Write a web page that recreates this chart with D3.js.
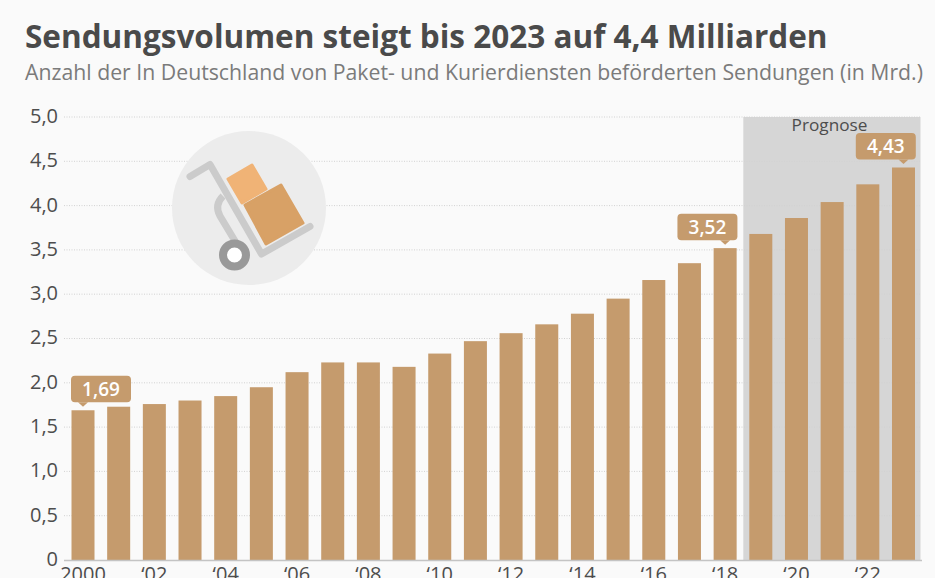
<!DOCTYPE html>
<html>
<head>
<meta charset="utf-8">
<script src="https://cdn.jsdelivr.net/npm/d3@7"></script>
<style>
  html, body { margin: 0; padding: 0; background: #fafafa; overflow: hidden; }
  svg { display: block; font-family: "Open Sans", sans-serif; }
  .tick text { font-size: 20px; fill: #4d4d4d; font-family: "Open Sans", sans-serif; }
</style>
</head>
<body>
<div id="chart"></div>
<script>
var titleText = 'Sendungsvolumen steigt bis 2023 auf 4,4 Milliarden';
var subtitleText = 'Anzahl der In Deutschland von Paket- und Kurierdiensten beförderten Sendungen (in Mrd.)';

var years = [2000, 2001, 2002, 2003, 2004, 2005, 2006, 2007, 2008, 2009, 2010, 2011,
  2012, 2013, 2014, 2015, 2016, 2017, 2018, 2019, 2020, 2021, 2022, 2023];
var volumes = [1.69, 1.73, 1.76, 1.80, 1.85, 1.95, 2.12, 2.23, 2.23, 2.18, 2.33, 2.47,
  2.56, 2.66, 2.78, 2.95, 3.16, 3.35, 3.52, 3.68, 3.86, 4.04, 4.24, 4.43];
var yTicks = [0, 0.5, 1, 1.5, 2, 2.5, 3, 3.5, 4, 4.5, 5];
var xTicks = [2000, 2002, 2004, 2006, 2008, 2010, 2012, 2014, 2016, 2018, 2020, 2022];
var labelledYears = [2000, 2018, 2023];
var forecastYears = [2019, 2023];

var barColor = '#c59b6d';

var svg = d3.select('#chart').append('svg')
  .attr('width', 935)
  .attr('height', 578);

var x = d3.scaleBand().domain(years).range([71.5, 915]).paddingInner(0.355);
var y = d3.scaleLinear().domain([0, 5]).range([560, 117]);

function yLabel(d) {
  return d === 0 ? '0' : d3.format('.1f')(d).replace('.', ',');
}

function xLabel(d) {
  return d === 2000 ? '2000' : '\u2018' + String(d).slice(2);
}

function drawHeader() {
  svg.append('text')
    .attr('x', 25).attr('y', 47.5)
    .attr('font-size', 31.5).attr('font-weight', 700).attr('fill', '#4a4a4a')
    .text(titleText);
  svg.append('text')
    .attr('x', 25).attr('y', 79.5)
    .attr('font-size', 21.25).attr('fill', '#7b7b7b')
    .text(subtitleText);
}

function drawForecast() {
  var left = x(forecastYears[0]) - 6;
  svg.append('rect')
    .attr('x', left).attr('y', y(5))
    .attr('width', 920.5 - left).attr('height', y(0) - y(5))
    .attr('fill', '#d6d6d6');
  svg.append('text')
    .attr('x', 829.5).attr('y', 131)
    .attr('text-anchor', 'middle')
    .attr('font-size', 17.2).attr('fill', '#4d4d4d')
    .text('Prognose');
}

function drawAxes() {
  var yAxis = d3.axisLeft(y).tickValues(yTicks).tickFormat(yLabel).tickSize(0).tickPadding(0);
  var gy = svg.append('g').attr('transform', 'translate(58,-1)').call(yAxis);
  gy.select('.domain').remove();
  gy.selectAll('.tick text').attr('x', 0);

  svg.append('g').selectAll('line')
    .data(yTicks.filter(function (d) { return d > 0; }))
    .enter().append('line')
    .attr('x1', 64).attr('x2', 921)
    .attr('y1', function (d) { return y(d); })
    .attr('y2', function (d) { return y(d); })
    .attr('stroke', '#d2d2d2')
    .attr('stroke-dasharray', '1 1.5');
}

function drawBars() {
  svg.append('g').selectAll('rect')
    .data(years)
    .enter().append('rect')
    .attr('x', function (d) { return x(d); })
    .attr('y', function (d, i) { return y(volumes[i]); })
    .attr('width', x.bandwidth())
    .attr('height', function (d, i) { return y(0) - y(volumes[i]); })
    .attr('fill', barColor);

  svg.append('line')
    .attr('x1', 64).attr('x2', 922)
    .attr('y1', 560.5).attr('y2', 560.5)
    .attr('stroke', '#c4c4c4').attr('stroke-width', 1.5);

  var xAxis = d3.axisBottom(x).tickValues(xTicks).tickFormat(xLabel).tickSize(0).tickPadding(0);
  var gx = svg.append('g').attr('transform', 'translate(0,560)').call(xAxis);
  gx.select('.domain').remove();
  gx.selectAll('.tick text').attr('y', 7);
}

// callouts sit above the bar, 60 wide, the tip always points at the bar centre
function drawCallouts() {
  var w = 60, h = 26.5, gap = 8;
  labelledYears.forEach(function (year, n) {
    var value = volumes[years.indexOf(year)];
    var cx = x(year) + x.bandwidth() / 2;
    var boxLeft = n === 0 ? x(year) - 0.5 : x(year) + x.bandwidth() + 0.8 - w;
    var boxBottom = y(value) - gap;
    var g = svg.append('g');
    g.append('rect')
      .attr('x', boxLeft).attr('y', boxBottom - h)
      .attr('width', w).attr('height', h)
      .attr('rx', 4)
      .attr('fill', barColor);
    g.append('path')
      .attr('d', 'M' + (cx - 5) + ',' + boxBottom + 'L' + cx + ',' + (boxBottom + 4.5) + 'L' + (cx + 5) + ',' + boxBottom + 'Z')
      .attr('fill', barColor);
    g.append('text')
      .attr('x', boxLeft + w / 2).attr('y', boxBottom - 6.5)
      .attr('text-anchor', 'middle')
      .attr('font-size', 19).attr('font-weight', 600).attr('fill', '#ffffff')
      .text(d3.format('.2f')(value).replace('.', ','));
  });
}

function drawIcon() {
  var icon = svg.append('g');
  icon.append('circle').attr('cx', 249).attr('cy', 208).attr('r', 77).attr('fill', '#ececec');
  icon.append('path')
    .attr('d', 'M223,196 Q214,205 220,216 L241,251')
    .attr('fill', 'none').attr('stroke', '#cbcbcb').attr('stroke-width', 7);
  icon.append('path')
    .attr('d', 'M190,176.5 L210,164.5 L261.5,254 L310,226.5')
    .attr('fill', 'none').attr('stroke', '#cbcbcb').attr('stroke-width', 7)
    .attr('stroke-linecap', 'round').attr('stroke-linejoin', 'round');
  icon.append('polygon')
    .attr('points', '228,179 252,165 266,189 242,203')
    .attr('fill', '#f0b376').attr('stroke', '#f0b376').attr('stroke-width', 3).attr('stroke-linejoin', 'round');
  icon.append('polygon')
    .attr('points', '245,205 281,185 303,223 266,244')
    .attr('fill', '#d8a166').attr('stroke', '#d8a166').attr('stroke-width', 3).attr('stroke-linejoin', 'round');
  icon.append('circle').attr('cx', 234.5).attr('cy', 255).attr('r', 11.5)
    .attr('fill', '#ffffff').attr('stroke', '#999999').attr('stroke-width', 8);
}

drawForecast();
drawAxes();
drawIcon();
drawBars();
drawCallouts();
drawHeader();
</script>
</body>
</html>
